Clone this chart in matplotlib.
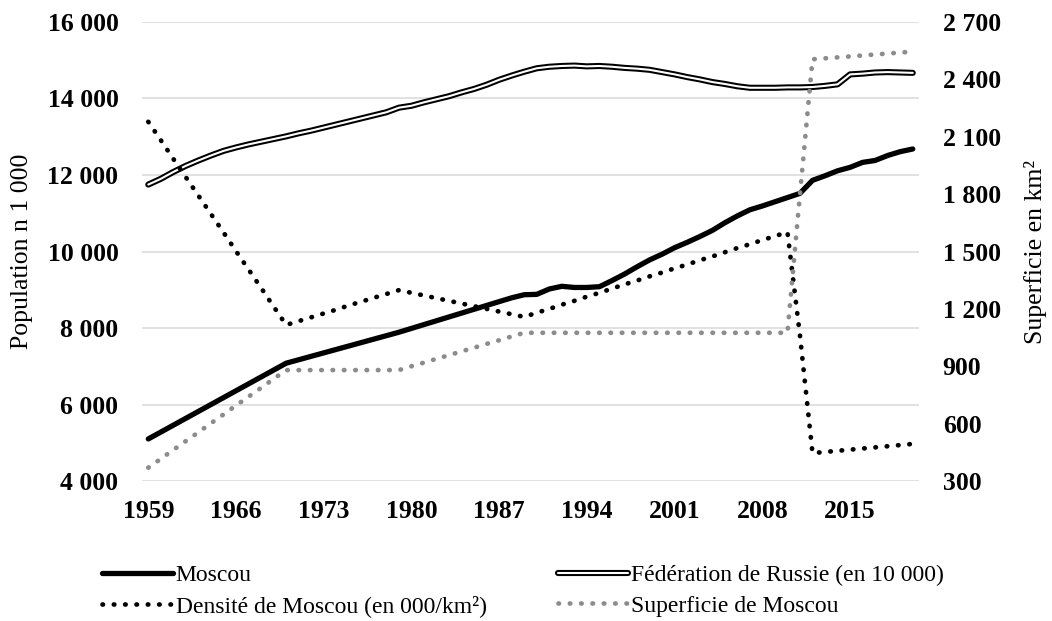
import numpy as np
import matplotlib
matplotlib.use("Agg")
import matplotlib.pyplot as plt
import matplotlib.patheffects as pe
from matplotlib.ticker import FuncFormatter

plt.rcParams['font.family'] = ['Liberation Serif', 'DejaVu Serif']

years = np.arange(1959, 2021)

# Population de Moscou (en milliers)
moscou = [5100, 5280, 5460, 5640, 5820, 6000, 6180, 6360, 6540, 6720, 6900,
          7080, 7170, 7260, 7350, 7440, 7530, 7620, 7710, 7800, 7890,
          7990, 8090, 8190, 8290, 8390, 8490, 8590, 8690, 8790, 8870,
          8880, 9020, 9090, 9060, 9060, 9080, 9240, 9410, 9600, 9780,
          9930, 10100, 10240, 10390, 10550, 10750, 10930, 11090, 11190, 11300,
          11410, 11520, 11860, 11980, 12110, 12200, 12330, 12380, 12510, 12610,
          12680]

# Fédération de Russie (en 10 000)
russie = [11750, 11900, 12080, 12240, 12380, 12510, 12630, 12720, 12800, 12870, 12940,
          13010, 13090, 13160, 13240, 13320, 13400, 13480, 13560, 13640, 13760,
          13810, 13900, 13980, 14060, 14160, 14250, 14360, 14490, 14600, 14700,
          14790, 14830, 14850, 14860, 14840, 14850, 14830, 14800, 14780, 14750,
          14690, 14630, 14560, 14500, 14430, 14380, 14320, 14280, 14280, 14280,
          14290, 14290, 14300, 14330, 14370, 14630, 14650, 14680, 14690, 14680,
          14670]

# Densité de Moscou
densite = [13390, 12910, 12420, 11940, 11460, 10980, 10500, 10010, 9530, 9050, 8560,
           8080, 8180, 8280, 8380, 8480, 8590, 8690, 8790, 8890, 8990,
           8920, 8850, 8780, 8710, 8640, 8570, 8500, 8430, 8360, 8290,
           8400, 8500, 8610, 8710, 8820, 8920, 9030, 9140, 9240, 9350,
           9450, 9560, 9660, 9770, 9870, 9980, 10090, 10190, 10300, 10400,
           10510, 7800, 4730, 4760, 4790, 4820, 4850, 4880, 4910, 4940,
           4970]

# Superficie de Moscou (km²)
superficie = [370, 416, 463, 509, 555, 602, 648, 695, 741, 787, 834,
              880, 880, 880, 880, 880, 880, 880, 880, 880, 880,
              900, 919, 939, 958, 978, 997, 1017, 1036, 1056, 1075,
              1075, 1075, 1075, 1075, 1075, 1075, 1075, 1075, 1075, 1075,
              1075, 1075, 1075, 1075, 1075, 1075, 1075, 1075, 1075, 1075,
              1075, 1800, 2505, 2510, 2515, 2520, 2525, 2530, 2535, 2540,
              2545]

xticks = np.arange(1959, 2021, 7)
left_ticks = np.arange(4000, 16001, 2000)
right_ticks = np.arange(300, 2701, 300)


def fmt_space(v, pos=None):
    return f"{int(v):,}".replace(",", " ")


fig = plt.figure(figsize=(10.52, 6.21), dpi=100)
ax = fig.add_axes([0.135, 0.2254, 0.7386, 0.7392])
ax2 = ax.twinx()

dot_style = (0, (0.1, 2.3))

l1, = ax.plot(years, moscou, color='black', lw=3.8, solid_capstyle='round',
              label='Moscou', zorder=3)
l2, = ax.plot(years, russie, color='white', lw=1.5, solid_capstyle='round',
              label='Fédération de Russie (en 10 000)', zorder=3,
              path_effects=[pe.Stroke(linewidth=4.4, foreground='black'), pe.Normal()])
l3, = ax.plot(years, densite, color='black', lw=3.4, linestyle=dot_style,
              dash_capstyle='round', label='Densité de Moscou (en 000/km²)', zorder=4)
l4, = ax2.plot(years, superficie, color='#8c8c8c', lw=3.4, linestyle=dot_style,
               dash_capstyle='round', label='Superficie de Moscou', zorder=4)

ax.set_xlim(1958.5, 2020.5)
ax.set_ylim(4000, 16000)
ax2.set_ylim(300, 2700)
ax.set_xticks(xticks)
ax.set_yticks(left_ticks)
ax2.set_yticks(right_ticks)
ax.yaxis.set_major_formatter(FuncFormatter(fmt_space))
ax2.yaxis.set_major_formatter(FuncFormatter(fmt_space))

ax.grid(axis='y', color='#d9d9d9', lw=1.1)
ax.set_axisbelow(True)
for a in (ax, ax2):
    for s in a.spines.values():
        s.set_visible(False)

ax.tick_params(axis='x', length=0, pad=14, labelsize=18.5)
ax.tick_params(axis='y', length=0, pad=17, labelsize=18.5)
ax2.tick_params(axis='y', length=0, pad=17, labelsize=18.5)
for lab in ax.get_xticklabels() + ax.get_yticklabels() + ax2.get_yticklabels():
    lab.set_fontweight('bold')

ax.set_ylabel('Population n 1 000', fontsize=18.5)
ax.yaxis.set_label_coords(-0.140, 0.5)
ax2.set_ylabel('Superficie en km²', fontsize=18.5, rotation=90)
ax2.yaxis.set_label_coords(1.135, 0.5)

fig.legend([l1, l3, l2, l4],
           [l1.get_label(), l3.get_label(), l2.get_label(), l4.get_label()],
           loc='upper left', bbox_to_anchor=(0.097, 0.091),
           ncol=2, frameon=False, fontsize=17, handlelength=3.0,
           handletextpad=0.12, columnspacing=3.0, borderpad=0, borderaxespad=0,
           labelspacing=0.38)

fig.savefig('out.png', dpi=100)
